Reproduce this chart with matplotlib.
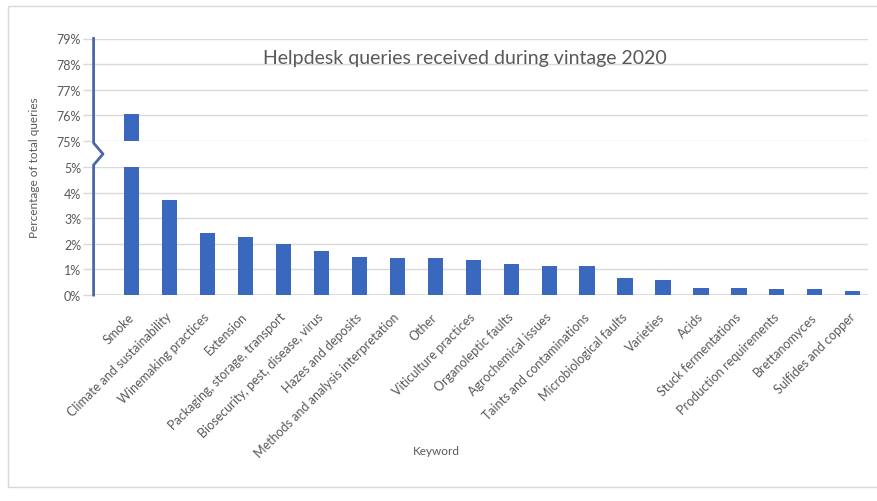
import matplotlib.pyplot as plt
from matplotlib.lines import Line2D
from matplotlib.patches import Rectangle
import numpy as np

plt.rcParams['font.family'] = ['Lato', 'DejaVu Sans']

# data (% of total helpdesk queries)
keywords = ['Smoke', 'Climate and sustainability', 'Winemaking practices', 'Extension',
            'Packaging, storage, transport', 'Biosecurity, pest, disease, virus',
            'Hazes and deposits', 'Methods and analysis interpretation', 'Other',
            'Viticulture practices', 'Organoleptic faults', 'Agrochemical issues',
            'Taints and contaminations', 'Microbiological faults', 'Varieties', 'Acids',
            'Stuck fermentations', 'Production requirements', 'Brettanomyces',
            'Sulfides and copper']
pct = [76.05, 3.73, 2.43, 2.25, 1.99, 1.72, 1.49, 1.44, 1.44, 1.35,
       1.22, 1.13, 1.13, 0.67, 0.60, 0.29, 0.29, 0.23, 0.25, 0.17]
low_ticks = [0, 1, 2, 3, 4, 5]
high_ticks = [75, 76, 77, 78, 79]

W, H = 878, 502
bar_col = '#3A68BE'
axis_col = '#4A67A8'
grid_col = '#D9D9D9'
txt_col = '#595959'

fig = plt.figure(figsize=(W / 100, H / 100), dpi=100)

def fx(px):
    return px / W

def fy(py):
    return 1 - py / H

x_left, x_right = 93.6, 868
y0, y5, y75, y79 = 296, 168, 142, 39.5

ax_lo = fig.add_axes([fx(x_left), fy(y0), fx(x_right - x_left), (y0 - y5) / H])
ax_hi = fig.add_axes([fx(x_left), fy(y75), fx(x_right - x_left), (y75 - y79) / H])

x = np.arange(len(keywords))
for ax, ticks in [(ax_lo, low_ticks), (ax_hi, high_ticks)]:
    ax.bar(x, pct, width=0.4, color=bar_col, zorder=3)
    ax.set_ylim(ticks[0], ticks[-1])
    ax.set_xlim(-1, 19.4)
    ax.set_yticks(ticks)
    ax.set_yticklabels([f'{t}%' for t in ticks], fontsize=9, color=txt_col)
    ax.grid(axis='y', color=grid_col, lw=1, zorder=0)
    ax.tick_params(axis='y', length=8, color=grid_col, width=1, pad=1)
    for s in ax.spines.values():
        s.set_visible(False)
    ax.set_facecolor('none')

ax_hi.set_xticks([])
ax_lo.set_xticks(x)
ax_lo.set_xticklabels(keywords, rotation=45, ha='right', va='center',
                      rotation_mode='anchor', fontsize=9, color=txt_col)
ax_lo.tick_params(axis='x', length=0, pad=14)
ax_lo.axhline(0, color=grid_col, lw=1.2, zorder=2)

# y axis line with break zigzag
xs = [x_left, x_left, x_left, 103, x_left, x_left]
ys = [y0, y5, y5 - 2, (y5 + y75) / 2, y75 + 2, y79]
fig.add_artist(Line2D([fx(v) for v in xs], [fy(v) for v in ys],
                      color=axis_col, lw=2, zorder=5))

ax_hi.text(0.48, 0.81, 'Helpdesk queries received during vintage 2020',
           transform=ax_hi.transAxes, ha='center', va='center',
           fontsize=14, color=txt_col)
fig.text(fx(35), fy(168), 'Percentage of total queries', rotation=90,
         ha='center', va='center', fontsize=8.5, color=txt_col)
fig.text(fx(436), fy(452), 'Keyword', ha='center', va='center',
         fontsize=8.5, color=txt_col)

# chart frame
fig.add_artist(Rectangle((fx(8), fy(488)), fx(880 - 8), (488 - 7) / H,
                         fill=False, edgecolor=grid_col, lw=1))

fig.savefig('out.png', dpi=100)
